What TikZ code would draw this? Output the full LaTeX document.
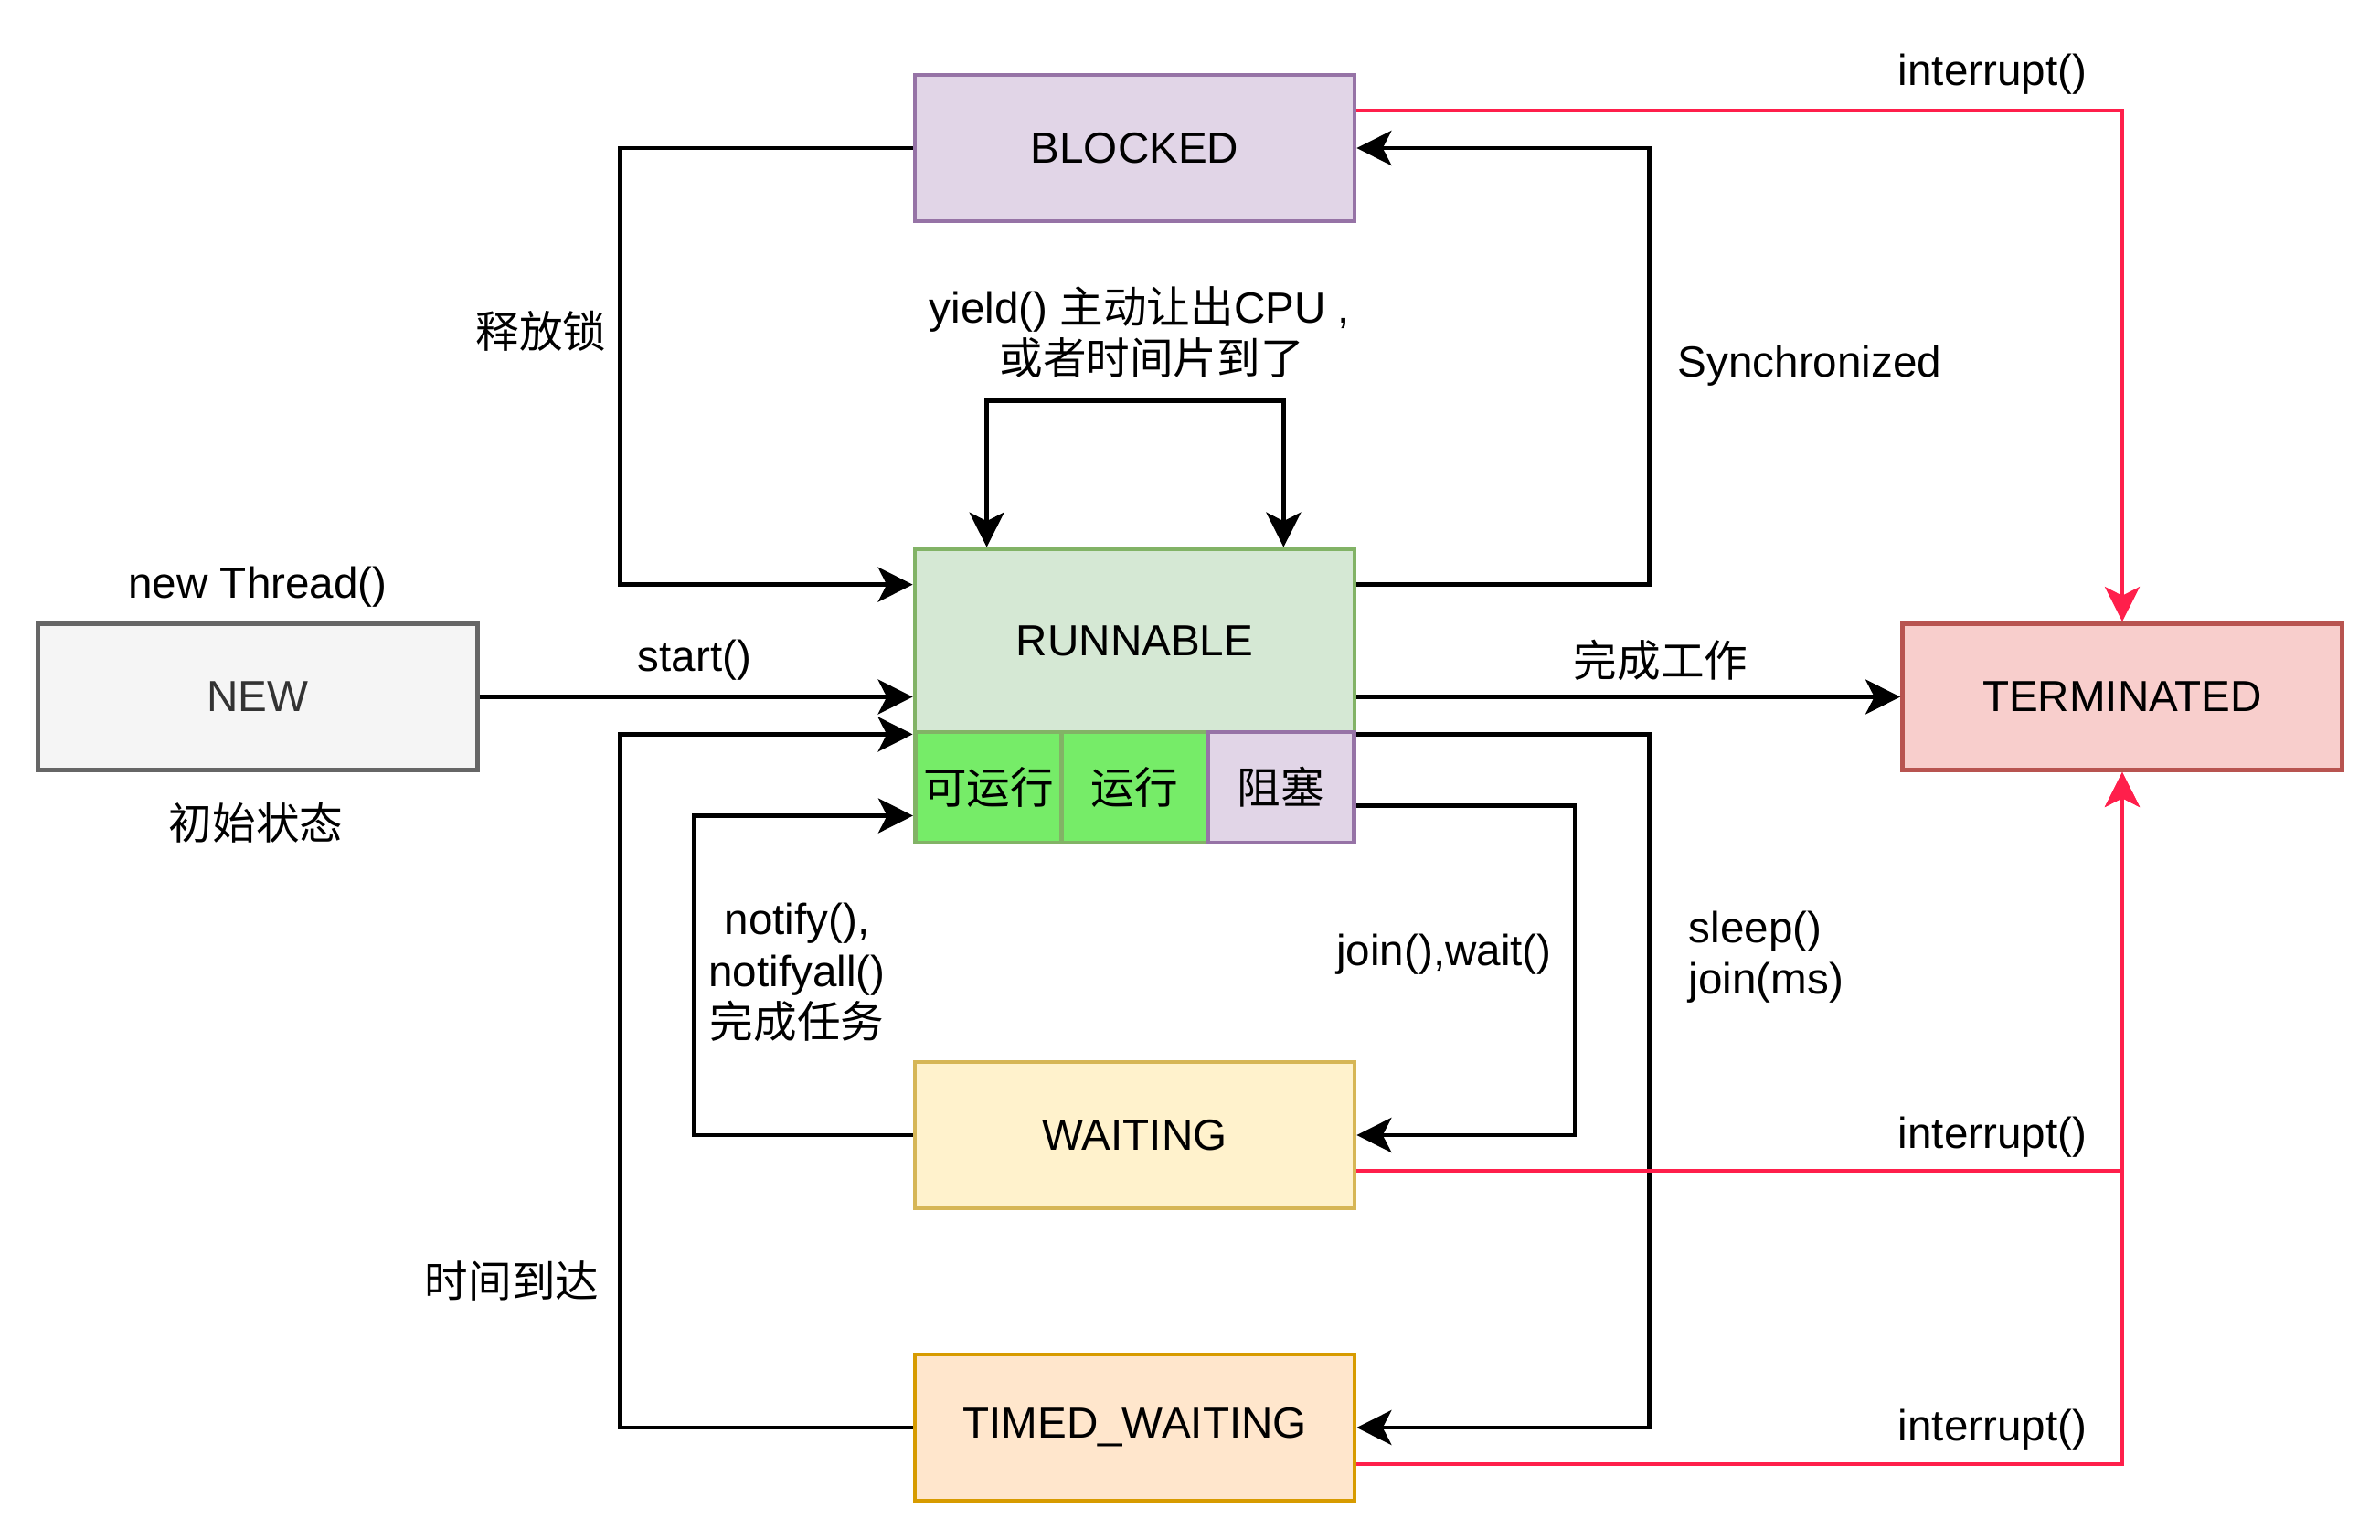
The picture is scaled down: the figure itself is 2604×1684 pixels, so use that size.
\documentclass[tikz,border=0pt]{standalone}
\usepackage{fontspec}
\setmainfont{Liberation Sans}
\newfontfamily\cjk{Noto Sans CJK SC}
\usetikzlibrary{arrows.meta,calc}
\definecolor{redline}{HTML}{FF1F4B}
\definecolor{subgreen}{HTML}{76EC68}
\tikzset{
  box/.style={draw, line width=1.2pt, inner sep=0pt, minimum width=120.25pt, minimum height=40pt, font=\fontsize{11.9}{14}\selectfont},
  cell/.style={draw, line width=1.2pt, inner sep=0pt, minimum width=40.08pt, minimum height=30.25pt, font=\fontsize{11.9}{14}\selectfont},
  lbl/.style={inner sep=0pt, font=\fontsize{11.9}{14}\selectfont},
  conn/.style={line width=1.15pt, -{Stealth[length=9.5pt,width=9.5pt,inset=2.4pt]}},
  rconn/.style={line width=1pt, draw=redline, -{Stealth[length=9.5pt,width=9.5pt,inset=2.4pt]}, redline},
}
\begin{document}
\begin{tikzpicture}[x=0.25pt,y=-0.25pt]
\fill[white] (0,0) rectangle (2604,1684);
\useasboundingbox (0,0) rectangle (2604,1684);
% states
\node[box, fill={rgb,255:red,225;green,213;blue,231}, draw={rgb,255:red,150;green,115;blue,166}] (blocked) at (1241.5,162) {BLOCKED};
\node[box, minimum height=50pt, fill={rgb,255:red,213;green,232;blue,212}, draw={rgb,255:red,130;green,179;blue,102}] (runnable) at (1241.5,701) {RUNNABLE};
\node[cell, fill=subgreen, draw={rgb,255:red,130;green,179;blue,102}] (c1) at (1081.5,861.5) {\cjk 可运行};
\node[cell, fill=subgreen, draw={rgb,255:red,130;green,179;blue,102}] (c2) at (1241.5,861.5) {\cjk 运行};
\node[cell, fill={rgb,255:red,225;green,213;blue,231}, draw={rgb,255:red,150;green,115;blue,166}] (c3) at (1401.5,861.5) {\cjk 阻塞};
\node[box, fill={rgb,255:red,245;green,245;blue,245}, draw={rgb,255:red,102;green,102;blue,102}, text={rgb,255:red,51;green,51;blue,51}] (new) at (282,762.5) {NEW};
\node[box, fill={rgb,255:red,248;green,206;blue,204}, draw={rgb,255:red,184;green,84;blue,80}] (terminated) at (2322,762.5) {TERMINATED};
\node[box, fill={rgb,255:red,255;green,242;blue,204}, draw={rgb,255:red,214;green,182;blue,86}] (waiting) at (1241.5,1242) {WAITING};
\node[box, fill={rgb,255:red,255;green,230;blue,204}, draw={rgb,255:red,215;green,155;blue,0}] (timed) at (1241.5,1562) {TIMED\_WAITING};
% connectors
\draw[conn] (blocked.west) -- ++(-320,0) |- ($(runnable.north west)+(0,41)$);
\draw[conn] ($(runnable.north east)+(0,41)$) -- ++(320,0) |- (blocked.east);
\draw[line width=1.15pt, {Stealth[length=9.5pt,width=9.5pt,inset=2.4pt]}-{Stealth[length=9.5pt,width=9.5pt,inset=2.4pt]}] ($(runnable.north west)+(81,0)$) -- ++(0,-160) -| ($(runnable.north east)+(-80,0)$);
\draw[conn] (new.east) -- (runnable.west |- new.east);
\draw[conn] (runnable.east |- terminated.west) -- (terminated.west);
\draw[conn] (timed.west) -- ++(-320,0) |- (runnable.south west);
\draw[conn] ($(c3.east)+(0,20)$) -- ++(239,0) |- (waiting.east);
\draw[conn] (waiting.west) -- ++(-239,0) |- ($(c1.west)+(0,31)$);
\draw[conn] (runnable.south east) -- ++(320,0) |- (timed.east);
\draw[rconn] ($(blocked.east)+(0,-41)$) -| (terminated.north);
\draw[rconn] ($(waiting.east)+(0,39)$) -| (terminated.south);
\draw[rconn] ($(timed.east)+(0,40)$) -| (terminated.south);
% labels
\node[lbl] (l1) at (592,362) {\cjk 释放锁};
\node[lbl, align=center] (l2) at (1247,363) {yield() {\cjk 主动让出}CPU ,\\\hspace*{6.5pt}{\cjk 或者时间片到了}};
\node[lbl] (l3) at (1980,400) {Synchronized};
\node[lbl] (l4) at (282,642) {new Thread()};
\node[lbl] (l5) at (280,900) {\cjk 初始状态};
\node[lbl] (l6) at (760,722) {start()};
\node[lbl] (l7) at (1817,722) {\cjk 完成工作};
\node[lbl] (l8) at (2180,81) {interrupt()};
\node[lbl] (l9) at (2180,1244) {interrupt()};
\node[lbl] (l10) at (2180,1564) {interrupt()};
\node[lbl] (l11) at (1580,1044) {join(),wait()};
\node[lbl, align=left, anchor=west] (l12) at (1847,1047) {sleep()\\join(ms)};
\node[lbl, align=center, font=\fontsize{11.9}{14.1}\selectfont] (l13) at (872,1064) {notify(),\\notifyall()\\{\cjk 完成任务}};
\node[lbl] (l14) at (560,1401) {\cjk 时间到达};
\end{tikzpicture}
\end{document}
